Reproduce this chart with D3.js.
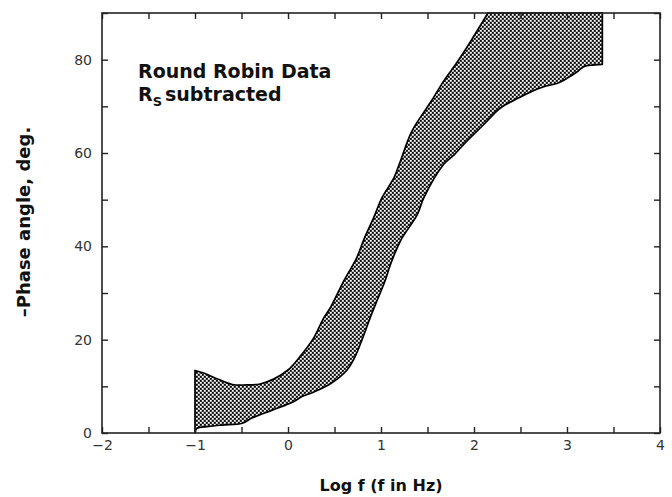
<!DOCTYPE html>
<html><head><meta charset="utf-8">
<script src="https://cdn.jsdelivr.net/npm/d3@7"></script>
<style>body{margin:0;background:#fff;} svg{display:block;}</style>
</head><body><svg id="chart" width="672" height="497"></svg>
<script>
// ---- data ----
const xTickValues = [-2,-1.5,-1,-0.5,0,0.5,1,1.5,2,2.5,3,3.5,4];
const xTickLabels = ["\u22122","","\u22121","","0","","1","","2","","3","","4"];
const yTickValues = [0,10,20,30,40,50,60,70,80,90];
const yTickLabels = ["0","","20","","40","","60","","80",""];

// upper (left) boundary of the Round Robin band
const upperX = [-1.0,-0.9,-0.75,-0.6,-0.45,-0.3,-0.15,0.0,0.13,0.28,0.38,0.46,0.6,0.74,0.81,0.92,1.01,1.14,1.2,1.33,1.49,1.55,1.67,1.82,1.96,2.15];
const upperY = [13.4,12.8,11.5,10.4,10.3,10.5,11.6,13.5,16.4,20.5,24.5,27.0,32.6,37.6,41.2,46.1,50.4,54.7,57.8,64.6,69.6,71.4,75.3,79.5,83.8,90];
// lower (right) boundary
const lowerX = [-1.0,-0.98,-0.85,-0.71,-0.49,-0.39,-0.17,0.06,0.15,0.28,0.46,0.63,0.72,0.8,0.88,0.96,1.04,1.10,1.21,1.39,1.46,1.67,1.78,1.92,2.10,2.28,2.46,2.61,2.75,2.89,3.0,3.11,3.18,3.25,3.38];
const lowerY = [0,1.0,1.4,1.7,2.1,3.2,4.9,6.7,7.8,8.8,10.6,13.4,16.3,20.2,24.5,28.5,32.4,36.0,41.2,46.8,50.4,57.5,59.5,62.5,66.0,69.6,71.6,73.1,74.2,74.9,76.0,77.4,78.5,78.8,79.0];
const bandTopX = 3.38;   // band closes along the top edge at this x

const xDomain = [-2,4];
const yDomain = [0,90];
const xTitle = "Log f (f in Hz)";
const yTitle = "\u2013Phase angle, deg.";
const noteLine1 = "Round Robin Data";

// ---- layout ----
const svg = d3.select("#chart");
const m = {left:102, top:13, right:12, bottom:64};
const W = 672, H = 497;
const iw = W - m.left - m.right, ih = H - m.top - m.bottom;
const x = d3.scaleLinear().domain(xDomain).range([m.left, m.left+iw]);
const y = d3.scaleLinear().domain(yDomain).range([m.top+ih, m.top]);

// pattern
const defs = svg.append("defs");
const pat = defs.append("pattern").attr("id","dots").attr("patternUnits","userSpaceOnUse")
  .attr("width",4).attr("height",4);
pat.append("rect").attr("width",4).attr("height",4).attr("fill","#8c8c8c");
pat.append("rect").attr("x",0).attr("y",0).attr("width",1.7).attr("height",1.7).attr("fill","#000");
pat.append("rect").attr("x",2).attr("y",2).attr("width",1.7).attr("height",1.7).attr("fill","#000");
pat.append("rect").attr("x",2).attr("y",0).attr("width",1.5).attr("height",1.5).attr("fill","#fff");
pat.append("rect").attr("x",0).attr("y",2).attr("width",1.5).attr("height",1.5).attr("fill","#fff");

// band polygon (smoothed edges)
const upperPts = upperX.map((v,i)=>[v, upperY[i]]);
const lowerPts = lowerX.map((v,i)=>[v, lowerY[i]]).reverse();
const edge = d3.line().x(d=>x(d[0])).y(d=>y(d[1])).curve(d3.curveCatmullRom.alpha(0.5));
const dUpper = edge(upperPts);
const dLower = edge(lowerPts).replace(/^M/, "L");
const dPath = dUpper + `L${x(bandTopX)},${y(yDomain[1])}` + dLower + "Z";
svg.append("path").attr("d", dPath)
  .attr("fill","url(#dots)").attr("stroke","#000").attr("stroke-width",1.7)
  .attr("stroke-linejoin","round");

// axes
const tickFont = "'DejaVu Sans', Verdana, sans-serif";
function styleAxis(g){
  g.select(".domain").remove();
  g.selectAll(".tick line").attr("stroke","#222").attr("stroke-width",1.4);
  g.selectAll(".tick text").attr("fill","#333").style("font-family",tickFont).style("font-size","14px");
}
svg.append("g").attr("transform",`translate(0,${m.top+ih})`)
  .call(d3.axisBottom(x).tickValues(xTickValues).tickSize(-6).tickPadding(7)
    .tickFormat((d,i)=>xTickLabels[i])).call(styleAxis);
svg.append("g").attr("transform",`translate(0,${m.top})`)
  .call(d3.axisTop(x).tickValues(xTickValues).tickSize(-6).tickFormat("")).call(styleAxis);
svg.append("g").attr("transform",`translate(${m.left},0)`)
  .call(d3.axisLeft(y).tickValues(yTickValues).tickSize(-6).tickPadding(10)
    .tickFormat((d,i)=>yTickLabels[i])).call(styleAxis);
svg.append("g").attr("transform",`translate(${m.left+iw},0)`)
  .call(d3.axisRight(y).tickValues(yTickValues).tickSize(-6).tickFormat("")).call(styleAxis);

// frame
svg.append("rect").attr("x",m.left).attr("y",m.top).attr("width",iw).attr("height",ih)
  .attr("fill","none").attr("stroke","#222").attr("stroke-width",1.6);

// titles
const boldFont = "'DejaVu Sans', Verdana, sans-serif";
svg.append("text").attr("x", 381).attr("y", 491).attr("text-anchor","middle")
  .style("font-family",boldFont).style("font-weight","bold").style("font-size","16px")
  .attr("fill","#111").text(xTitle);
svg.append("text").attr("transform",`translate(30,222) rotate(-90)`).attr("text-anchor","middle")
  .style("font-family",boldFont).style("font-weight","bold").style("font-size","18px")
  .attr("fill","#111").text(yTitle);

// annotation
const note = svg.append("g").style("font-family",boldFont).style("font-weight","bold").attr("fill","#111");
note.append("text").attr("x",138).attr("y",78).style("font-size","19px").text(noteLine1);
const t2 = note.append("text").attr("x",138).attr("y",101).style("font-size","19px");
t2.append("tspan").text("R");
t2.append("tspan").attr("dy",5).style("font-size","13px").text("S");
t2.append("tspan").attr("dy",-5).attr("dx",3).text("subtracted");
</script>
</body></html>
